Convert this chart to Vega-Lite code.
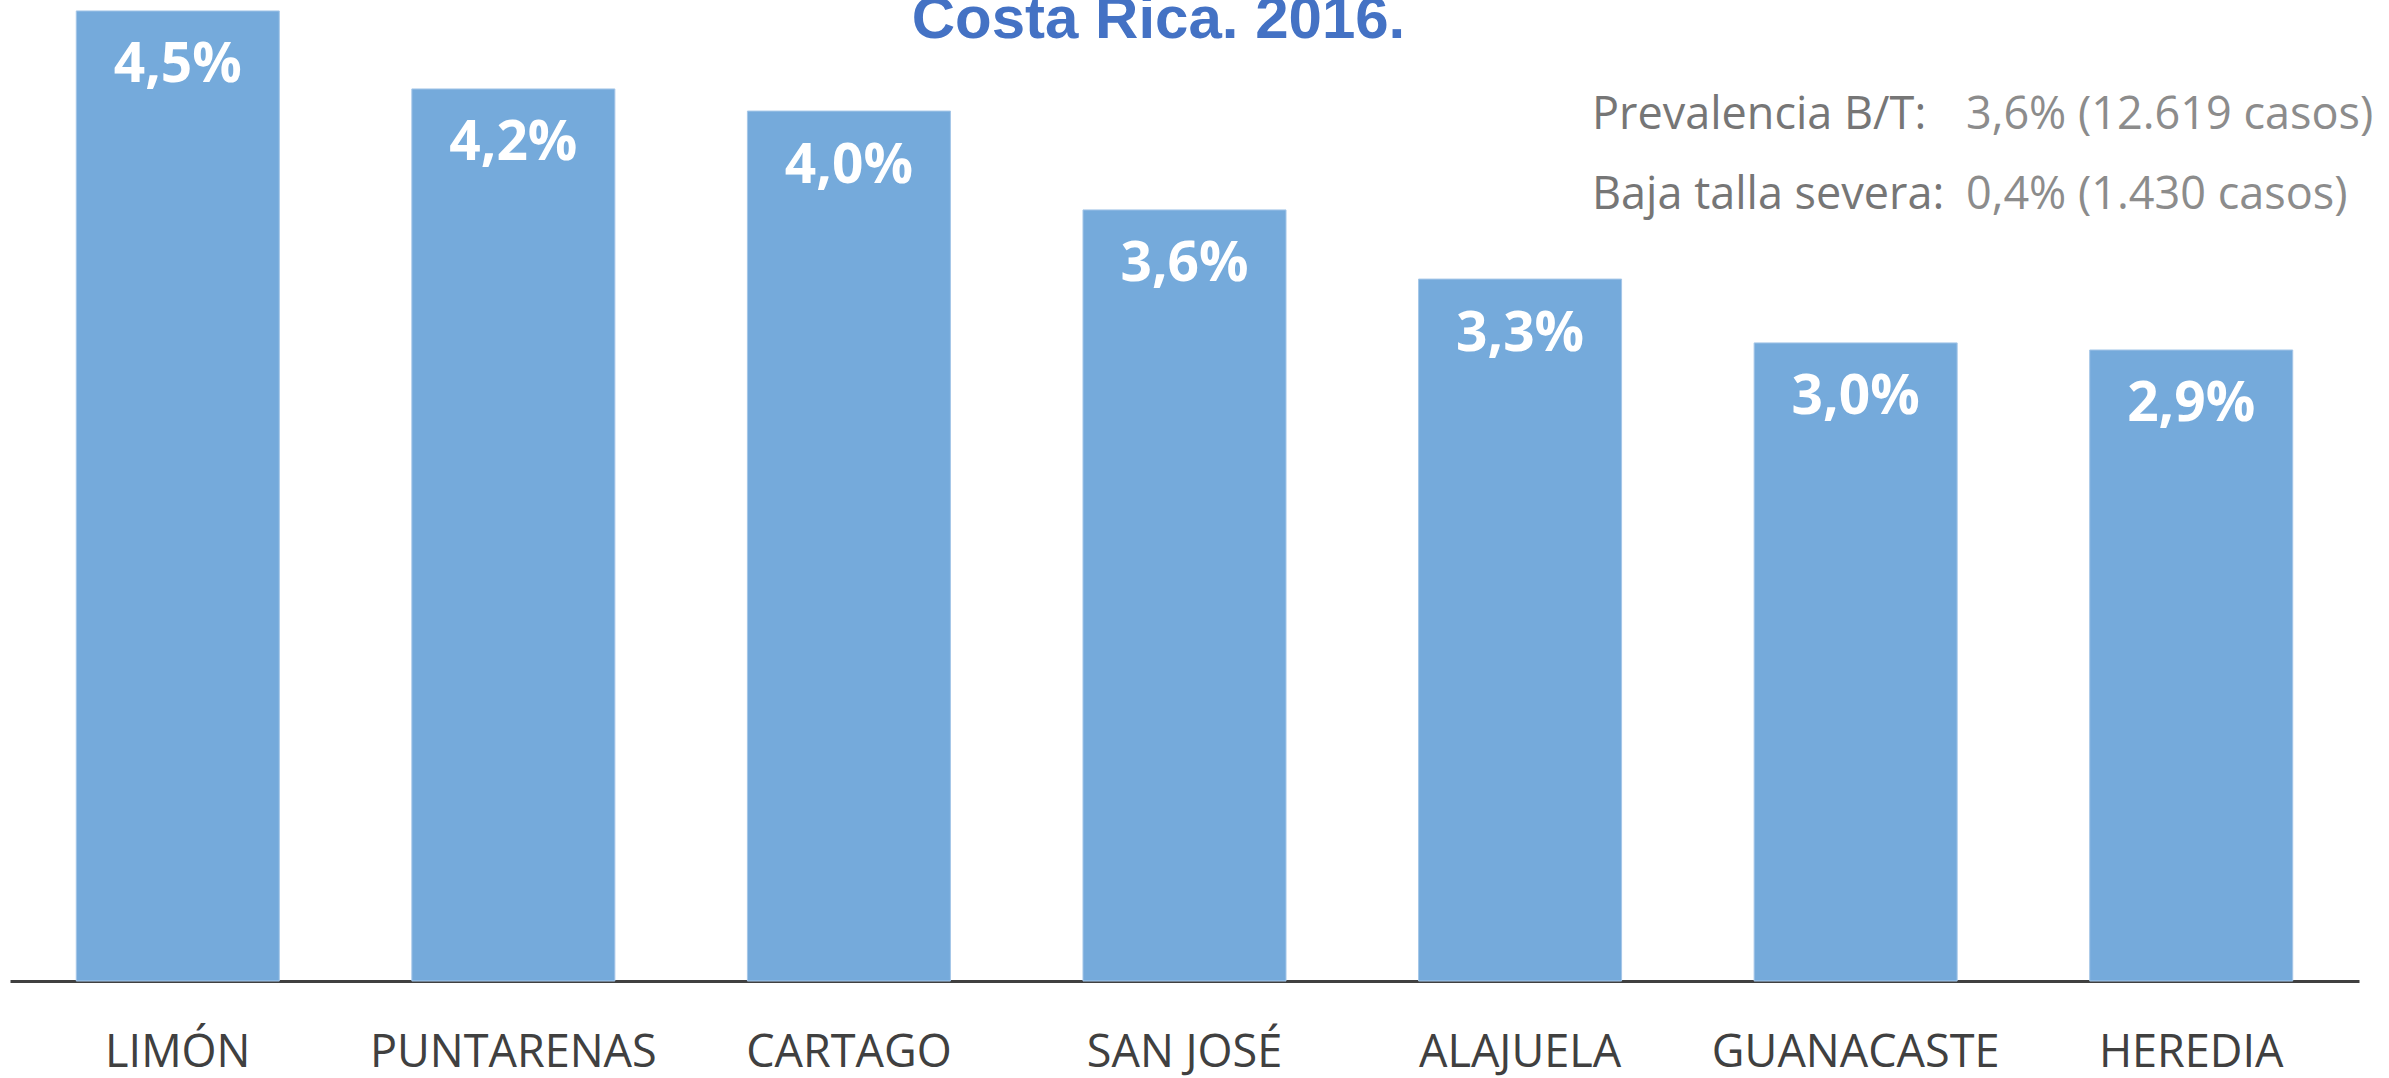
{
  "$schema": "https://vega.github.io/schema/vega-lite/v6.json",
  "width": 2349,
  "height": 981,
  "autosize": "none",
  "padding": {"left": 10, "top": 0, "right": 30, "bottom": 97},
  "background": "white",
  "config": {
    "view": {"stroke": null},
    "locale": {"number": {"decimal": ",", "thousands": ".", "grouping": [3], "currency": ["", ""]}}
  },
  "layer": [
    {
      "data": {
        "values": [
          {"provincia": "LIMÓN", "prevalencia": 0.04515},
          {"provincia": "PUNTARENAS", "prevalencia": 0.04152},
          {"provincia": "CARTAGO", "prevalencia": 0.04049},
          {"provincia": "SAN JOSÉ", "prevalencia": 0.03589},
          {"provincia": "ALAJUELA", "prevalencia": 0.03267},
          {"provincia": "GUANACASTE", "prevalencia": 0.02970},
          {"provincia": "HEREDIA", "prevalencia": 0.02937}
        ]
      },
      "encoding": {
        "x": {
          "field": "provincia",
          "type": "nominal",
          "sort": null,
          "scale": {"paddingInner": 0.395, "paddingOuter": 0.1975},
          "axis": {
            "title": null,
            "labelAngle": 0,
            "labelFont": "Open Sans",
            "labelFontSize": 45,
            "labelColor": "#404040",
            "labelBaseline": "alphabetic",
            "labelPadding": 85,
            "labelLimit": 400,
            "ticks": false,
            "tickSize": 0,
            "grid": false,
            "domainColor": "#404040",
            "domainWidth": 3
          }
        },
        "y": {
          "field": "prevalencia",
          "type": "quantitative",
          "scale": {"domain": [0, 0.04566], "nice": false, "zero": true},
          "axis": null
        }
      },
      "layer": [
        {"mark": {"type": "bar", "color": "#75AADB", "stroke": "#A4C6E8", "strokeWidth": 1}},
        {
          "mark": {
            "type": "text",
            "baseline": "alphabetic",
            "align": "center",
            "dy": 71.5,
            "font": "Open Sans",
            "fontSize": 55,
            "fontWeight": "bold",
            "color": "white"
          },
          "encoding": {"text": {"field": "prevalencia", "type": "quantitative", "format": ".1%"}}
        }
      ]
    },
    {
      "data": {
        "values": [
          {"linea": 1, "etiqueta": "Prevalencia B/T:", "valor": "3,6% (12.619 casos)"},
          {"linea": 2, "etiqueta": "Baja talla severa:", "valor": "0,4% (1.430 casos)"}
        ]
      },
      "layer": [
        {
          "data": {"values": [{"titulo": "Costa Rica. 2016."}]},
          "mark": {"type": "text", "align": "center", "baseline": "alphabetic", "font": "Liberation Sans", "fontSize": 60, "fontWeight": "bold", "color": "#4472C4"},
          "encoding": {
            "x": {"datum": 0.48893, "type": "quantitative", "scale": {"domain": [0, 1]}, "axis": null},
            "y": {"datum": 0.96126, "type": "quantitative", "scale": {"domain": [0, 1]}, "axis": null},
            "text": {"field": "titulo", "type": "nominal"}
          }
        },
        {
          "transform": [{"filter": "datum.linea == 1"}],
          "mark": {"type": "text", "align": "left", "baseline": "alphabetic", "font": "Open Sans", "fontSize": 45, "color": "#767676"},
          "encoding": {
            "x": {"datum": 0.67348, "type": "quantitative"},
            "y": {"datum": 0.8685, "type": "quantitative"},
            "text": {"field": "etiqueta", "type": "nominal"}
          }
        },
        {
          "transform": [{"filter": "datum.linea == 2"}],
          "mark": {"type": "text", "align": "left", "baseline": "alphabetic", "font": "Open Sans", "fontSize": 45, "color": "#767676"},
          "encoding": {
            "x": {"datum": 0.67348, "type": "quantitative"},
            "y": {"datum": 0.78695, "type": "quantitative"},
            "text": {"field": "etiqueta", "type": "nominal"}
          }
        },
        {
          "transform": [{"filter": "datum.linea == 1"}],
          "mark": {"type": "text", "align": "left", "baseline": "alphabetic", "font": "Open Sans", "fontSize": 45, "color": "#8C8C8C"},
          "encoding": {
            "x": {"datum": 0.8327, "type": "quantitative"},
            "y": {"datum": 0.8685, "type": "quantitative"},
            "text": {"field": "valor", "type": "nominal"}
          }
        },
        {
          "transform": [{"filter": "datum.linea == 2"}],
          "mark": {"type": "text", "align": "left", "baseline": "alphabetic", "font": "Open Sans", "fontSize": 45, "color": "#8C8C8C"},
          "encoding": {
            "x": {"datum": 0.8327, "type": "quantitative"},
            "y": {"datum": 0.78695, "type": "quantitative"},
            "text": {"field": "valor", "type": "nominal"}
          }
        }
      ]
    }
  ],
  "resolve": {"scale": {"x": "independent", "y": "independent"}}
}
